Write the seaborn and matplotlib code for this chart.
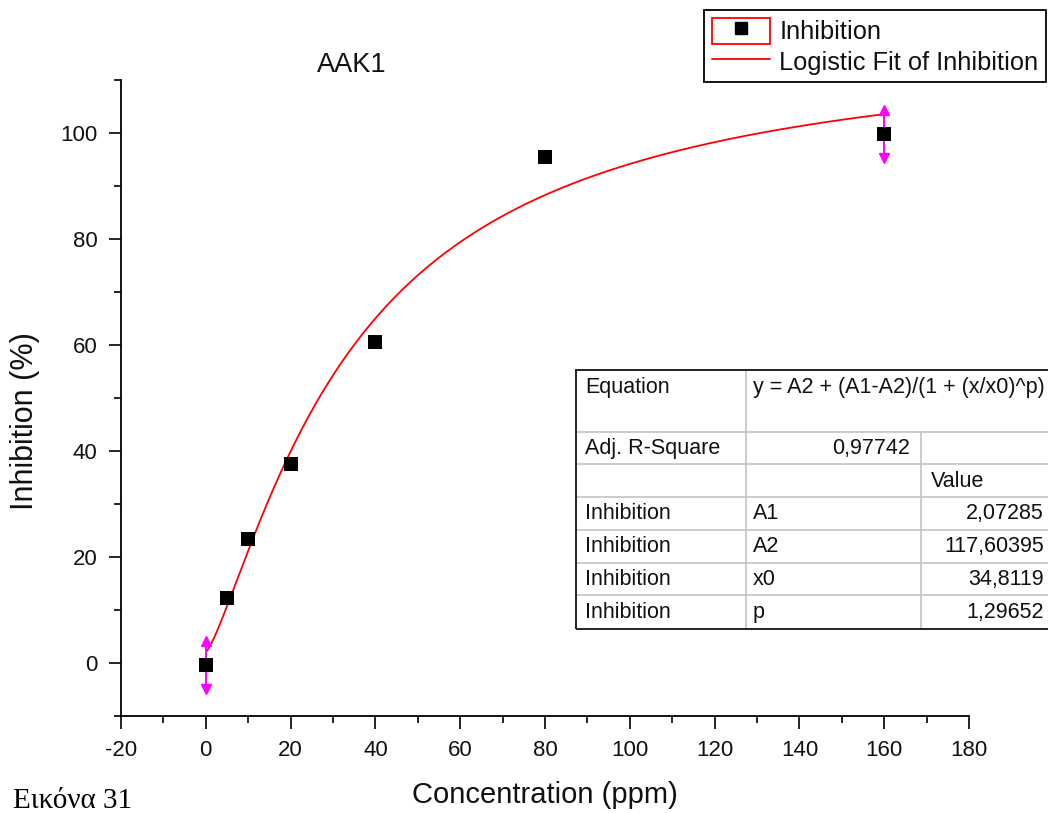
import numpy as np
import pandas as pd
import matplotlib.pyplot as plt
import matplotlib.ticker as mticker
from matplotlib.lines import Line2D
from matplotlib.patches import Rectangle
from matplotlib.legend_handler import HandlerTuple
import seaborn as sns

# ---------------- data ----------------
concentration = [0, 5, 10, 20, 40, 80, 160]
inhibition = [-0.4, 12.2, 23.4, 37.6, 60.5, 95.5, 99.8]
inhibition_err = [4.5, 0, 0, 0, 0, 0, 4.5]

# logistic fit, parameters as printed in the chart table
param_names = ["A1", "A2", "x0", "p"]
param_values = [2.07285, 117.60395, 34.8119, 1.29652]
param_text = ["2,07285", "117,60395", "34,8119", "1,29652"]
adj_r2_text = "0,97742"
equation_text = "y = A2 + (A1-A2)/(1 + (x/x0)^p)"

W, H = 1048, 813


def fx(px):
    return px / W


def fy(py):
    return 1 - py / H


df = pd.DataFrame({"conc": concentration, "inh": inhibition, "err": inhibition_err})

A1, A2, x0, p = param_values
x_fit = np.linspace(concentration[0], concentration[-1], 400)
y_fit = A2 + (A1 - A2) / (1 + (x_fit / x0) ** p)

sns.set_theme(style="ticks")
plt.rcParams["font.family"] = ["Liberation Sans", "DejaVu Sans"]
plt.rcParams["axes.unicode_minus"] = False

fig = plt.figure(figsize=(W / 100, H / 100), dpi=100)
ax = fig.add_axes([fx(121), fy(716), (969 - 121) / W, (716 - 80) / H])

# fit line
sns.lineplot(x=x_fit, y=y_fit, color="red", linewidth=1.3, ax=ax, legend=False, sort=False)

# error bars (only where given) with arrow heads
e = df[df["err"] > 0]
ax.errorbar(e["conc"], e["inh"], yerr=e["err"], fmt="none", ecolor="#ff00ff",
            elinewidth=1.4, capsize=0, zorder=2)
ax.plot(e["conc"], e["inh"] + e["err"], linestyle="none", marker="^",
        markersize=7, color="#ff00ff", zorder=2)
ax.plot(e["conc"], e["inh"] - e["err"], linestyle="none", marker="v",
        markersize=7, color="#ff00ff", zorder=2)

# data points
sns.scatterplot(data=df, x="conc", y="inh", marker="s", s=90, color="black",
                linewidth=0, ax=ax, zorder=3, legend=False)

ax.set_xlim(-20, 180)
ax.set_ylim(-10, 110)
ax.xaxis.set_major_locator(mticker.MultipleLocator(20))
ax.xaxis.set_minor_locator(mticker.MultipleLocator(10))
ax.yaxis.set_major_locator(mticker.FixedLocator([0, 20, 40, 60, 80, 100]))
ax.yaxis.set_minor_locator(mticker.MultipleLocator(10))
ax.tick_params(which="major", direction="out", length=9, width=1.2, color="black",
               labelsize=16, labelcolor="#111111", pad=8)
ax.tick_params(which="minor", direction="out", length=5, width=1.2, color="black")
sns.despine(ax=ax)
for s in ["left", "bottom"]:
    ax.spines[s].set_color("black")
    ax.spines[s].set_linewidth(1.3)

ax.set_xlabel("Concentration (ppm)", fontsize=21, color="#111111")
ax.xaxis.label.set_va("baseline")
ax.xaxis.set_label_coords(0.5, (716 - 803) / 636)
ax.set_ylabel("Inhibition (%)", fontsize=22, color="#111111")
ax.yaxis.set_label_coords((40 - 121) / 848, (716 - 421) / 636)

ax.set_title("AAK1", fontsize=19.5, color="#111111")
ax.title.set_position(((352 - 121) / 848, (716 - 67) / 636))
ax.title.set_va("baseline")

# legend: red box around the square marker, then the fit line
box = Rectangle((0, 0), 1, 1, facecolor="none", edgecolor="red", linewidth=1.3)
pt = Line2D([], [], linestyle="none", marker="s", markersize=9, color="black")
fitline = Line2D([], [], color="red", linewidth=1.3)
leg = fig.legend([(box, pt), fitline], ["Inhibition", "Logistic Fit of Inhibition"],
                 handler_map={tuple: HandlerTuple(ndivide=1)},
                 loc="upper left", bbox_to_anchor=(fx(704), fy(10)), borderaxespad=0,
                 fontsize=18.3, frameon=True, fancybox=False, edgecolor="black",
                 framealpha=1, handlelength=2.3, handleheight=1.2, handletextpad=0.36,
                 borderpad=0.3, labelspacing=0.15, numpoints=1)
leg.get_frame().set_linewidth(1.3)
for t in leg.get_texts():
    t.set_color("#111111")

# parameter table
col_x = [576, 746, 921, 1062]
row_y = [370, 432, 464, 497, 530, 563, 595, 629]
grid = "#c4c4c4"
fig.add_artist(Rectangle((fx(col_x[0]), fy(row_y[-1])), (col_x[-1] - col_x[0]) / W,
                         (row_y[-1] - row_y[0]) / H, transform=fig.transFigure,
                         facecolor="white", edgecolor="none", zorder=4))
for ry in row_y[1:-1]:
    fig.add_artist(Line2D([fx(col_x[0]), fx(col_x[-1])], [fy(ry), fy(ry)],
                          transform=fig.transFigure, color=grid, linewidth=1.2, zorder=5))
fig.add_artist(Line2D([fx(col_x[1])] * 2, [fy(row_y[0]), fy(row_y[-1])],
                      transform=fig.transFigure, color=grid, linewidth=1.2, zorder=5))
fig.add_artist(Line2D([fx(col_x[2])] * 2, [fy(row_y[1]), fy(row_y[-1])],
                      transform=fig.transFigure, color=grid, linewidth=1.2, zorder=5))
fig.add_artist(Rectangle((fx(col_x[0]), fy(row_y[-1])), (col_x[-1] - col_x[0]) / W,
                         (row_y[-1] - row_y[0]) / H, transform=fig.transFigure,
                         facecolor="none", edgecolor="#222222", linewidth=1.4, zorder=6))

tkw = dict(fontsize=15.5, color="#111111", va="center", zorder=7)
fig.text(fx(585), fy(387), "Equation", ha="left", **tkw)
fig.text(fx(753), fy(387), equation_text, ha="left", **tkw)
fig.text(fx(585), fy(448), "Adj. R-Square", ha="left", **tkw)
fig.text(fx(910), fy(448), adj_r2_text, ha="right", **tkw)
fig.text(fx(931), fy(481), "Value", ha="left", **tkw)
for i, (name, val) in enumerate(zip(param_names, param_text)):
    cy = (row_y[i + 3] + row_y[i + 4]) / 2
    fig.text(fx(585), fy(cy), "Inhibition", ha="left", **tkw)
    fig.text(fx(753), fy(cy), name, ha="left", **tkw)
    fig.text(fx(1044), fy(cy), val, ha="right", **tkw)

# caption under the figure
fig.text(fx(13), fy(808), "Εικόνα 31", fontsize=21, family=["Liberation Serif", "DejaVu Serif"],
         color="black", ha="left", va="baseline")

fig.savefig("out.png", dpi=100)
